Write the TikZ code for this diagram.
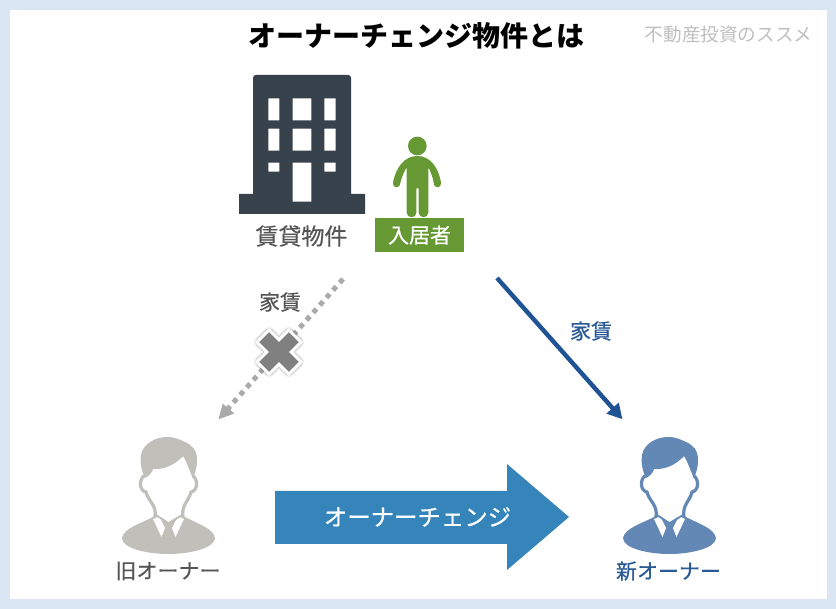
\documentclass[tikz,border=0pt]{standalone}
\usepackage{fontspec}
\setmainfont{Noto Sans CJK JP}
\newfontfamily\jpm[FakeBold=0.5]{Noto Sans CJK JP}
\usetikzlibrary{arrows.meta}
\definecolor{pagebg}{HTML}{DBE6F4}
\definecolor{bldg}{HTML}{37424C}
\definecolor{leaf}{HTML}{669933}
\definecolor{oldc}{HTML}{C0BFB9}
\definecolor{newc}{HTML}{6488B5}
\definecolor{newtxt}{HTML}{2A5A96}
\definecolor{gtxt}{HTML}{555555}
\definecolor{rentblue}{HTML}{1F5394}
\definecolor{rentgrey}{HTML}{AAAAAA}
\definecolor{bigarrow}{HTML}{3585BB}
\definecolor{crossgrey}{HTML}{808080}
\tikzset{
  label16/.style={inner sep=0pt,anchor=center,font=\jpm\fontsize{21}{21}\selectfont},
  glabel/.style={label16,text=gtxt},
  blabel/.style={label16,text=newtxt},
  pics/owner/.style={code={
    % body
    \fill[#1] (122,538) .. controls (124,528) and (140,524) .. (155,516)
      -- (183,516) .. controls (198,524) and (213,528) .. (215,538)
      .. controls (215,548) and (190,554) .. (168.5,554)
      .. controls (146,554) and (122,548) .. cycle;
    % collar
    \fill[white] (153,519) -- (159,516) -- (165,528) -- (161.5,537) -- cycle;
    \fill[white] (184,519) -- (178,516) -- (172,528) -- (175.5,537) -- cycle;
    \fill[white] (157,514.5) -- (168.5,522) -- (181,514.5) -- (181,500) -- (157,500) -- cycle;
    \draw[#1,line width=1.8pt] (156,515) -- (168.5,523.5) -- (182,515);
    % head outline
    \draw[#1,line width=3.2pt,line cap=round]
      (144,476) .. controls (139,479) and (139,491) .. (146,492)
      .. controls (148,501) and (157,505) .. (155,517);
    \draw[#1,line width=3.2pt,line cap=round]
      (193,476) .. controls (198,479) and (198,491) .. (191,492)
      .. controls (189,501) and (181,505) .. (183,517);
    % hair
    \fill[#1] (145,478) .. controls (141,470) and (140,462) .. (141,455)
      .. controls (143,444) and (155,437) .. (167,437)
      .. controls (176,437) and (180,440) .. (185,442)
      .. controls (192,445) and (197,450) .. (197,460)
      .. controls (197,468) and (195,473) .. (193,478)
      .. controls (189,470) and (187,462) .. (183,456)
      .. controls (175,465) and (163,470) .. (153,469)
      .. controls (152,473) and (149,476) .. (145,478) -- cycle;
  }}
}
\begin{document}
\begin{tikzpicture}[x=1pt,y=-1pt]
\useasboundingbox (0,0) rectangle (836,609);
\fill[pagebg] (0,0) rectangle (836,609);
\fill[white] (10,10) rectangle (827,599);

\node[inner sep=0pt,font=\fontsize{28}{28}\selectfont\bfseries] (title) at (416.5,36) {オーナーチェンジ物件とは};
\node[inner sep=0pt,text=black!25,font=\fontsize{18.6}{19}\selectfont] (brand) at (728.5,34) {不動産投資のススメ};

% building
\fill[bldg,even odd rule]
  (239,214) -- (239,194) -- (253,194) -- (253,78) .. controls (253,76) and (254,75) .. (256,75) -- (348,75)
  .. controls (350,75) and (351,76) .. (351,78) -- (351,194) -- (365,194) -- (365,214) -- cycle
  (268.3,98.3) rectangle (279.3,120.3)
  (292.7,98.3) rectangle (311.3,120.3)
  (324.3,98.3) rectangle (335.7,120.3)
  (268.3,128.7) rectangle (279.3,150.7)
  (292.7,128.7) rectangle (311.3,150.7)
  (324.3,128.7) rectangle (335.7,150.7)
  (268.3,162.7) rectangle (279.3,171.7)
  (324.3,162.7) rectangle (335.7,171.7)
  (292.7,162.7) rectangle (311.3,201.7);
\node[glabel,font=\jpm\fontsize{23}{23}\selectfont] (prop) at (301.5,236) {賃貸物件};

% tenant
\begin{scope}[shift={(220,60)},scale=1/3]
\fill[leaf] (592,258) circle[radius=28];
\fill[leaf] (592,288) .. controls (555,288) and (528,320) .. (519,368)
  .. controls (516,385) and (540,388) .. (541,368)
  .. controls (546,350) and (552,335) .. (560,322)
  -- (560,458) .. controls (560,476) and (590,476) .. (589,458)
  -- (589,385) -- (596,385) -- (596,458)
  .. controls (596,476) and (625,476) .. (625,458)
  -- (625,322) .. controls (632,335) and (638,350) .. (641,368)
  .. controls (642,388) and (666,385) .. (663,368)
  .. controls (655,320) and (629,288) .. (592,288) -- cycle;
\end{scope}
\node[fill=leaf,text=white,inner sep=0pt,minimum width=89pt,minimum height=34pt,font=\jpm\fontsize{21}{21}\selectfont] (tenant) at (419.5,235) {入居者};

% rent arrows
\coordinate (rentA) at (343,279);
\coordinate (rentB) at (218.5,419.3);
\coordinate (rentC) at (497,278);
\coordinate (rentD) at (622.5,419.3);
\draw[rentgrey,line width=5pt,dash pattern=on 5pt off 5pt,shorten >=10pt] (rentA) -- (rentB);
\fill[rentgrey] (rentB) -- (222.7,403.5) -- (234.3,413.5) -- cycle;
\draw[rentblue,line width=4.4pt,-{Triangle[length=15pt,width=15.5pt]}] (rentC) -- (rentD);
\node[glabel] (rent1) at (280,302) {家賃};
\node[blabel] (rent2) at (591,331) {家賃};

% cross
\begin{scope}[shift={(279,352)},rotate=45]
\def\crosspath{(21,7) -- (7,7) -- (7,21) -- (-7,21) -- (-7,7) -- (-21,7) -- (-21,-7) -- (-7,-7) -- (-7,-21) -- (7,-21) -- (7,-7) -- (21,-7) -- cycle}
\foreach \w in {11,9,7.5}{
  \draw[black,opacity=.06,line width=\w pt,line join=round] \crosspath;}
\draw[white,fill=white,line width=6pt,line join=miter] \crosspath;
\fill[crossgrey] \crosspath;
\end{scope}

% owners
\pic at (0,0) {owner=oldc};
\pic at (501,0) {owner=newc};
\node[glabel] (oldo) at (168,571) {旧オーナー};
\node[blabel] (newo) at (668.5,571) {新オーナー};

% big arrow
\fill[bigarrow] (275,491) -- (507,491) -- (507,464) -- (569,517) -- (507,570) -- (507,544) -- (275,544) -- cycle;
\node[inner sep=0pt,text=white,font=\jpm\fontsize{23.4}{24}\selectfont] (change) at (417.5,517) {オーナーチェンジ};
\end{tikzpicture}
\end{document}
